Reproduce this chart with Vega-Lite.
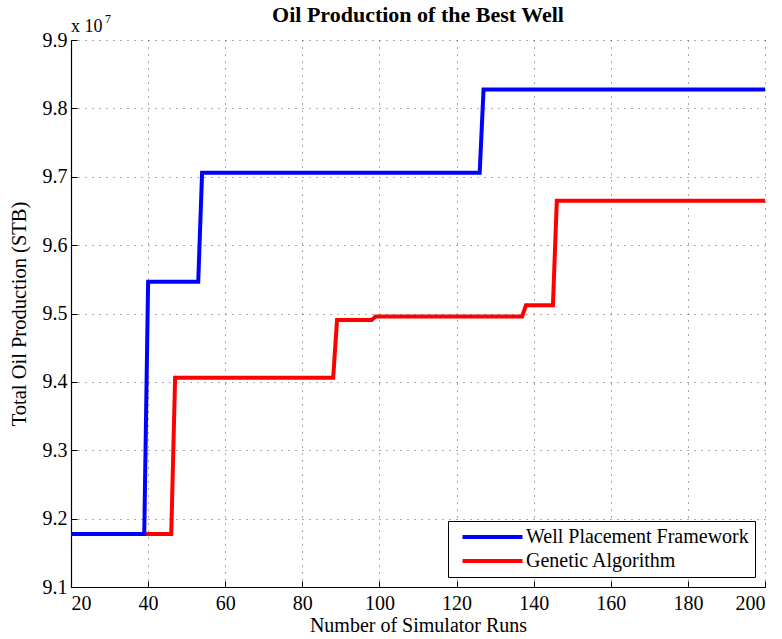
{
  "$schema": "https://vega.github.io/schema/vega-lite/v6.json",
  "width": 694,
  "height": 547,
  "autosize": {"type": "none"},
  "padding": {"left": 71, "top": 40, "right": 17, "bottom": 52},
  "background": "white",
  "config": {
    "view": {"stroke": null},
    "title": {"font": "Liberation Serif", "fontSize": 22, "fontWeight": "bold", "color": "black"},
    "axis": {
      "domainColor": "black", "domainWidth": 1.2,
      "tickColor": "black", "tickSize": -6,
      "grid": true, "gridColor": "#555555", "gridDash": [1, 6], "gridWidth": 1
    }
  },
  "title": {"text": "Oil Production of the Best Well", "offset": -14},
  "datasets": {
    "lines": [
      {"series": "Genetic Algorithm", "runs": 39, "prod": 9.1775},
      {"series": "Genetic Algorithm", "runs": 46, "prod": 9.1775},
      {"series": "Genetic Algorithm", "runs": 47, "prod": 9.406},
      {"series": "Genetic Algorithm", "runs": 88, "prod": 9.406},
      {"series": "Genetic Algorithm", "runs": 89, "prod": 9.4905},
      {"series": "Genetic Algorithm", "runs": 98, "prod": 9.4905},
      {"series": "Genetic Algorithm", "runs": 99, "prod": 9.4955},
      {"series": "Genetic Algorithm", "runs": 137, "prod": 9.4955},
      {"series": "Genetic Algorithm", "runs": 138, "prod": 9.512},
      {"series": "Genetic Algorithm", "runs": 145, "prod": 9.512},
      {"series": "Genetic Algorithm", "runs": 146, "prod": 9.665},
      {"series": "Genetic Algorithm", "runs": 200, "prod": 9.665},
      {"series": "Well Placement Framework", "runs": 20, "prod": 9.1775},
      {"series": "Well Placement Framework", "runs": 39, "prod": 9.1775},
      {"series": "Well Placement Framework", "runs": 40, "prod": 9.5465},
      {"series": "Well Placement Framework", "runs": 53, "prod": 9.5465},
      {"series": "Well Placement Framework", "runs": 54, "prod": 9.706},
      {"series": "Well Placement Framework", "runs": 126, "prod": 9.706},
      {"series": "Well Placement Framework", "runs": 127, "prod": 9.8275},
      {"series": "Well Placement Framework", "runs": 200, "prod": 9.8275}
    ],
    "exp": [{"runs": 20, "prod": 9.9, "t": "x 10", "s": "7"}]
  },
  "layer": [
    {
      "data": {"name": "lines"},
      "mark": {"type": "line", "strokeWidth": 4, "strokeJoin": "miter", "clip": true},
      "encoding": {
        "x": {
          "field": "runs", "type": "quantitative",
          "scale": {"domain": [20, 200], "nice": false, "zero": false},
          "axis": {"values": [20, 40, 60, 80, 100, 120, 140, 160, 180, 200], "title": "Number of Simulator Runs",
            "labelFont": "Liberation Serif", "labelFontSize": 20, "labelColor": "black",
            "titleFont": "Liberation Serif", "titleFontSize": 20, "titleFontWeight": "normal", "titleColor": "black",
            "labelPadding": 12, "titlePadding": 2}
        },
        "y": {
          "field": "prod", "type": "quantitative",
          "scale": {"domain": [9.1, 9.9], "nice": false, "zero": false},
          "axis": {"values": [9.1, 9.2, 9.3, 9.4, 9.5, 9.6, 9.7, 9.8, 9.9], "format": ".1f", "title": "Total Oil Production (STB)",
            "labelFont": "Liberation Serif", "labelFontSize": 20, "labelColor": "black",
            "titleFont": "Liberation Serif", "titleFontSize": 20.5, "titleFontWeight": "normal", "titleColor": "black",
            "labelPadding": 10, "titlePadding": 13}
        },
        "color": {
          "field": "series", "type": "nominal",
          "scale": {"domain": ["Well Placement Framework", "Genetic Algorithm"], "range": ["#0000ff", "#ff0000"]},
          "legend": {
            "title": null, "orient": "bottom-right", "offset": 10,
            "fillColor": "white", "strokeColor": "black", "padding": 6,
            "symbolType": "M-0.2,0L7.8,0", "symbolStrokeWidth": 4, "symbolSize": 225,
            "labelFont": "Liberation Serif", "labelFontSize": 20, "labelColor": "black", "labelLimit": 0,
            "rowPadding": 4, "labelOffset": 52
          }
        },
        "order": {"field": "runs", "type": "quantitative"}
      }
    },
    {
      "data": {"name": "exp"},
      "mark": {"type": "text", "align": "left", "baseline": "bottom", "dx": 0, "dy": -4, "fontSize": 18, "font": "Liberation Serif", "color": "black"},
      "encoding": {
        "x": {"field": "runs", "type": "quantitative"},
        "y": {"field": "prod", "type": "quantitative"},
        "text": {"field": "t"}
      }
    },
    {
      "data": {"name": "exp"},
      "mark": {"type": "text", "align": "left", "baseline": "bottom", "dx": 34, "dy": -14, "fontSize": 12, "font": "Liberation Serif", "color": "black"},
      "encoding": {
        "x": {"field": "runs", "type": "quantitative"},
        "y": {"field": "prod", "type": "quantitative"},
        "text": {"field": "s"}
      }
    }
  ]
}
